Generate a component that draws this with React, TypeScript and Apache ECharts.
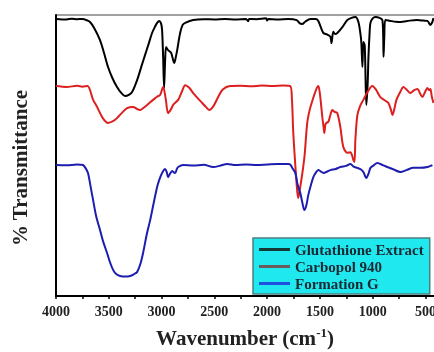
import React, { useEffect, useRef } from "react";
import * as echarts from "echarts";

const SERIES_NAMES = ["Glutathione Extract", "Carbopol 940", "Formation G"];

const glutathione: [number, number][] = [
  [4000, 98.6], [3900, 98.4], [3850, 98.7], [3800, 98.5], [3750, 98.6], [3700, 98.0], [3678, 97.5],
  [3640, 95.5], [3583, 91.1], [3545, 86.5], [3507, 81.5], [3465, 77.5], [3422, 74.4], [3380, 72.2],
  [3346, 71.2], [3310, 71.6], [3279, 72.6], [3250, 75], [3222, 77.9], [3190, 81.8], [3156, 85.8],
  [3120, 90], [3090, 93.6], [3060, 96.0], [3042, 97.2], [3023, 97.9], [3005, 97.0], [2995, 94.7],
  [2985, 85], [2976, 74.0], [2966, 84], [2957, 88.6], [2938, 87.5], [2909, 86.5], [2880, 82.9],
  [2865, 85.0], [2852, 87.5], [2824, 93.6], [2800, 96.5], [2776, 97.2], [2700, 98.2], [2600, 98.5],
  [2500, 98.4], [2400, 98.6], [2300, 98.4], [2200, 98.6], [2180, 97.8], [2170, 98.6], [2100, 98.5],
  [2010, 98.8], [2000, 98.0], [1990, 98.6], [1900, 98.4], [1800, 98.6], [1720, 98.2], [1690, 97.0],
  [1667, 96.8], [1640, 97.6], [1590, 98.6], [1540, 98.6], [1515, 97.9], [1490, 95.5], [1467, 93.6],
  [1430, 93.0], [1400, 92.2], [1390, 90.0], [1373, 94.0], [1355, 93.2], [1335, 93.6], [1287, 95.7],
  [1240, 98.2], [1200, 99.0], [1164, 99.3], [1135, 97.5], [1115, 93], [1107, 90], [1097, 81.5],
  [1088, 90.4], [1075, 89], [1060, 68.0], [1048, 75], [1040, 85], [1030, 93], [1021, 97.2],
  [1000, 98.8], [974, 99.3], [930, 98.9], [908, 98.2], [900, 92], [897, 85.1], [890, 92], [880, 98.2],
  [832, 97.9], [780, 97.6], [737, 97.5], [650, 98.0], [576, 98.2], [520, 98.0], [481, 97.9],
  [453, 96.4], [435, 97.5], [424, 98.9],
];

const carbopol: [number, number][] = [
  [4000, 74.7], [3900, 74.4], [3800, 74.8], [3750, 74.5], [3700, 74.7], [3680, 73.5], [3650, 70],
  [3611, 67.3], [3560, 63.5], [3507, 61.6], [3460, 62.2], [3422, 63.3], [3380, 65], [3327, 66.9],
  [3270, 67.3], [3230, 66.5], [3203, 66.2], [3170, 67], [3137, 68.0], [3080, 69.8], [3040, 71],
  [3014, 71.5], [2985, 74.4], [2960, 70], [2938, 65.1], [2910, 66.5], [2890, 68.0], [2843, 69.8],
  [2810, 72.5], [2776, 75.0], [2740, 74.2], [2700, 72.2], [2660, 70.5], [2615, 68.7], [2580, 67.3],
  [2549, 66.2], [2510, 67.5], [2464, 70.8], [2420, 73.5], [2350, 74.7], [2250, 74.8], [2150, 74.6],
  [2050, 74.9], [1950, 74.7], [1850, 74.9], [1781, 74.7], [1765, 70], [1752, 58.0], [1730, 45],
  [1714, 37], [1705, 34.9], [1690, 38], [1667, 43.5], [1645, 50], [1620, 61.6], [1595, 66.5],
  [1572, 69.4], [1540, 73.0], [1515, 74.7], [1500, 72], [1477, 63.7], [1465, 60], [1458, 58.0],
  [1448, 61], [1439, 61.6], [1420, 62.0], [1400, 64.5], [1382, 66.2], [1360, 65.5], [1335, 65.1],
  [1306, 60.1], [1278, 53.0], [1240, 51.0], [1211, 51.2], [1195, 50], [1183, 48.4], [1172, 47.7],
  [1164, 55.5], [1145, 64.4], [1120, 67.5], [1088, 69.8], [1050, 72.5], [1003, 74.7], [970, 73.5],
  [927, 70.8], [880, 69.5], [851, 68.7], [825, 66], [813, 64.4], [795, 66.5], [775, 69.8],
  [740, 72.5], [709, 74.4], [680, 73.5], [642, 72.2], [610, 73.2], [576, 73.7], [550, 72.0],
  [528, 70.8], [505, 72.5], [481, 74.0], [465, 73.2], [453, 73.7], [440, 71], [424, 68.7],
];

const formationG: [number, number][] = [
  [4000, 46.6], [3900, 46.5], [3800, 46.8], [3744, 46.6], [3720, 45.5], [3697, 43.8], [3670, 38.5],
  [3649, 34.2], [3620, 28.5], [3583, 23.5], [3550, 19.0], [3516, 15.3], [3490, 12.2], [3459, 9.3],
  [3430, 7.8], [3393, 7.1], [3340, 6.9], [3298, 7.1], [3260, 7.8], [3232, 8.5], [3200, 11.5],
  [3175, 15.3], [3140, 22], [3108, 27.0], [3075, 33], [3042, 38.8], [3020, 41.5], [2995, 43.8],
  [2966, 45.2], [2950, 44.0], [2938, 42.3], [2920, 43.5], [2900, 44.5], [2885, 44.0], [2871, 43.8],
  [2855, 45.2], [2843, 45.9], [2795, 46.6], [2700, 46.4], [2600, 46.7], [2511, 45.9], [2450, 46.3],
  [2378, 47.0], [2300, 46.6], [2200, 46.8], [2100, 46.6], [2000, 46.8], [1900, 47.0], [1800, 47.0],
  [1781, 46.8], [1760, 45.5], [1733, 43.8], [1710, 39.5], [1686, 36.7], [1665, 33], [1648, 30.6],
  [1630, 32], [1610, 35.9], [1585, 39.5], [1562, 42.3], [1540, 43.8], [1515, 44.8], [1490, 44.3],
  [1467, 43.8], [1430, 44.3], [1400, 44.8], [1350, 45.2], [1306, 45.9], [1250, 46.3], [1211, 47.0],
  [1180, 46.0], [1145, 45.6], [1110, 45.0], [1088, 44.1], [1060, 42.0], [1040, 43.5], [1021, 45.6],
  [990, 46.5], [956, 47.3], [900, 46.5], [861, 45.9], [800, 45.0], [737, 44.1], [680, 44.8],
  [614, 45.6], [550, 45.6], [481, 45.9], [434, 46.6],
];

const X_LABELS = [4000, 3500, 3000, 2500, 2000, 1500, 1000, 500];
const X_TICKS = [4000, 3750, 3500, 3250, 3000, 2750, 2500, 2250, 2000, 1750, 1500, 1250, 1000, 750, 500];

const SERIF = '"Liberation Serif", "Times New Roman", serif';

export default function App() {
  const ref = useRef<HTMLDivElement>(null);
  useEffect(() => {
    if (!ref.current) return;
    const chart = echarts.init(ref.current, null, { renderer: "svg" });
    const colors = ["#000000", "#dd1f1f", "#1d1db0"];
    const legendColors = ["#153838", "#6b5b5b", "#2050dd"];
    const datasets = [glutathione, carbopol, formationG];
    chart.setOption({
      animation: false,
      grid: {
        left: 56,
        top: 15,
        width: 380,
        bottom: 56,
        containLabel: false,
        outerBoundsMode: "none",
        show: true,
        borderColor: "#444",
        borderWidth: 1,
      },
      xAxis: {
        type: "value",
        min: 400,
        max: 4000,
        inverse: true,
        splitLine: { show: false },
        axisLine: { lineStyle: { color: "#000", width: 2 } },
        axisTick: {
          customValues: X_TICKS,
          length: 3,
          lineStyle: { color: "#000", width: 1.5 },
        },
        axisLabel: {
          customValues: X_LABELS,
          formatter: (v: number) => String(v),
          margin: 8,
          fontFamily: SERIF,
          fontWeight: "bold",
          fontSize: 14,
          color: "#222",
        },
      },
      yAxis: {
        type: "value",
        min: 0,
        max: 100,
        splitLine: { show: false },
        axisLine: { show: true, lineStyle: { color: "#000", width: 2 } },
        axisTick: { show: false },
        axisLabel: { show: false },
      },
      legend: {
        orient: "vertical",
        left: 253,
        top: 238,
        padding: [3, 6, 2, 6],
        itemGap: 0,
        itemWidth: 31,
        itemHeight: 3,
        icon: "rect",
        backgroundColor: "#1fe8ee",
        borderColor: "#4d7f80",
        borderWidth: 1.5,
        borderRadius: 0,
        textStyle: {
          fontFamily: SERIF,
          fontWeight: "bold",
          fontSize: 15,
          lineHeight: 17,
          color: "#1c2833",
        },
        data: SERIES_NAMES.map((n, i) => ({ name: n, itemStyle: { color: legendColors[i] } })),
      },
      series: SERIES_NAMES.map((n, i) => ({
        name: n,
        type: "line",
        data: datasets[i],
        smooth: 0.3,
        showSymbol: false,
        symbol: "none",
        lineStyle: { color: colors[i], width: 2 },
        itemStyle: { color: colors[i] },
      })),
      graphic: [
        {
          type: "text",
          x: 20,
          y: 168,
          rotation: Math.PI / 2,
          style: {
            text: "% Transmittance",
            fontFamily: SERIF,
            fontWeight: "bold",
            fontSize: 21,
            fill: "#222",
            align: "center",
            verticalAlign: "middle",
          },
        },
        {
          type: "text",
          x: 245,
          y: 338,
          style: {
            text: "{a|Wavenumber (cm}{s|-1}{a|)}",
            align: "center",
            verticalAlign: "middle",
            rich: {
              a: { fontFamily: SERIF, fontWeight: "bold", fontSize: 21, fill: "#222", lineHeight: 24 },
              s: { fontFamily: SERIF, fontWeight: "bold", fontSize: 13, fill: "#222", lineHeight: 24, verticalAlign: "top", padding: [0, 0, 10, 0] },
            },
          },
        },
      ],
    });
    return () => chart.dispose();
  }, []);
  return <div ref={ref} style={{ position: "fixed", left: 0, top: 0, width: 434, height: 352 }} />;
}
